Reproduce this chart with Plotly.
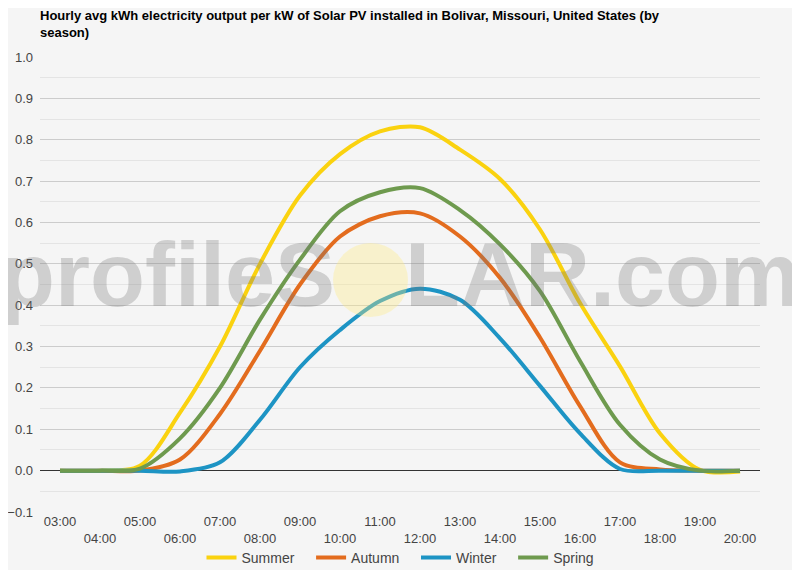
import plotly.graph_objects as go

hours = ["03:00", "04:00", "05:00", "06:00", "07:00", "08:00", "09:00", "10:00", "11:00",
         "12:00", "13:00", "14:00", "15:00", "16:00", "17:00", "18:00", "19:00", "20:00"]

summer = [0.0, 0.0, 0.012, 0.14, 0.30, 0.50, 0.665, 0.765, 0.82,
          0.83, 0.776, 0.705, 0.583, 0.405, 0.252, 0.09, 0.002, -0.002]
autumn = [0.0, 0.0, 0.0, 0.027, 0.137, 0.29, 0.45, 0.566, 0.615,
          0.622, 0.566, 0.466, 0.322, 0.156, 0.02, 0.003, 0.0, 0.0]
winter = [0.0, 0.0, 0.0, -0.002, 0.02, 0.123, 0.25, 0.34, 0.41,
          0.44, 0.413, 0.32, 0.205, 0.09, 0.004, 0.0, 0.0, 0.0]
spring = [0.0, 0.0, 0.005, 0.078, 0.20, 0.365, 0.51, 0.627, 0.673,
          0.683, 0.63, 0.547, 0.434, 0.265, 0.111, 0.027, 0.0, 0.0]

series = [("Summer", summer, "#FAD20F"), ("Autumn", autumn, "#E36C1E"),
          ("Winter", winter, "#1D94C4"), ("Spring", spring, "#6E9A4E")]

y_ticks = [round(-0.1 + 0.1 * i, 1) for i in range(12)]

# staggered x labels: every other one pushed to a second row
tick_text = [h if i % 2 == 0 else "<br>" + h for i, h in enumerate(hours)]

fig = go.Figure()
for name, vals, col in series:
    fig.add_trace(go.Scatter(
        x=hours, y=vals, name=name + "\u00a0\u00a0\u00a0", mode="lines",
        line=dict(color=col, width=4, shape="spline", smoothing=0.9),
    ))

# page body adds an 8px offset, so the figure is shifted back by that much
# plot area on screen: x 40..760, y 57..512
def px(x):
    return (x - 40) / 720

def py(y):
    return (512 - y) / 455

fig.add_shape(type="circle", xref="paper", yref="paper",
              x0=px(333), x1=px(408), y0=py(317), y1=py(243),
              line=dict(width=0), fillcolor="rgba(255,235,130,0.35)", layer="above")

fig.add_annotation(
    xref="paper", yref="paper", x=px(400), y=py(275),
    text="<b>profileS<span style='color:rgba(0,0,0,0)'>O</span>LAR.com</b>",
    showarrow=False, xanchor="center", yanchor="middle",
    font=dict(family="Liberation Sans, Arial", size=90, color="rgba(120,120,120,0.3)"),
)

fig.update_layout(
    width=800, height=570,
    paper_bgcolor="#f5f5f5", plot_bgcolor="#f5f5f5",
    margin=dict(l=32, r=48, t=49, b=66, autoexpand=False),
    font=dict(family="Liberation Sans, Arial", size=13, color="#444"),
    title=dict(
        text="<b>Hourly avg kWh electricity output per kW of Solar PV installed in Bolivar, Missouri, United States (by<br>season)</b>",
        x=32 / 800, xanchor="left", xref="container",
        y=1 - 12 / 570, yanchor="top", yref="container",
        font=dict(size=13, color="#000"),
    ),
    showlegend=True,
    legend=dict(orientation="h", x=398 / 800, xanchor="center", xref="container",
                y=20 / 570, yanchor="middle", yref="container",
                font=dict(size=14, color="#444"), itemwidth=30, bgcolor="rgba(0,0,0,0)"),
    xaxis=dict(
        type="category", range=[-0.5, 17.5], tickvals=hours, ticktext=tick_text,
        showgrid=False, zeroline=False, showline=False, ticks="", automargin=False,
        tickfont=dict(size=13, color="#444"),
    ),
    yaxis=dict(
        range=[-0.1, 1.0], tickvals=y_ticks, tickformat=".1f", automargin=False,
        showgrid=True, gridcolor="#cccccc", gridwidth=1,
        zeroline=True, zerolinecolor="#333", zerolinewidth=1,
        minor=dict(dtick=0.05, tick0=0, showgrid=True, gridcolor="#e4e4e4"),
        tickfont=dict(size=13, color="#444"), ticks="", ticklabelstandoff=6,
    ),
)

fig.write_html("out.html")
